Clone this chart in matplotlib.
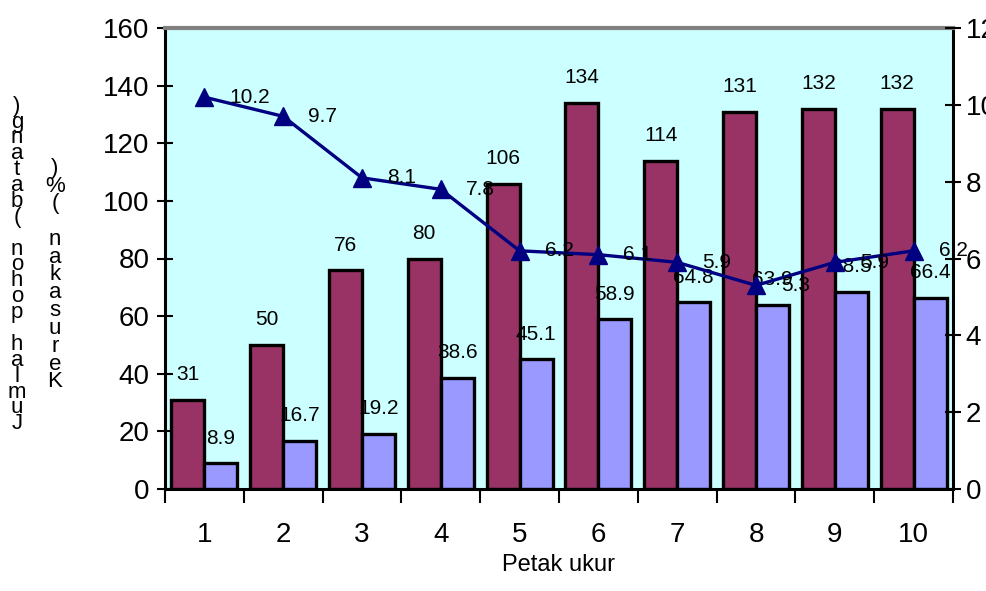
import matplotlib
matplotlib.use("Agg")
import matplotlib.pyplot as plt
import numpy as np

plots = ["1", "2", "3", "4", "5", "6", "7", "8", "9", "10"]
pohon = [31, 50, 76, 80, 106, 134, 114, 131, 132, 132]
semai = [8.9, 16.7, 19.2, 38.6, 45.1, 58.9, 64.8, 63.9, 68.5, 66.4]
rusak = [10.2, 9.7, 8.1, 7.8, 6.2, 6.1, 5.9, 5.3, 5.9, 6.2]

ylabel_left = "Jumlah pohon (batang)"
ylabel_right = "Kerusakan (%)"

plt.rcParams["font.family"] = ["Liberation Sans", "DejaVu Sans"]

fig = plt.figure(figsize=(9.87, 5.91), dpi=100)
ax = fig.add_axes([165 / 987, 1 - 489 / 591, 788 / 987, 461 / 591])
ax.set_facecolor("#CCFFFF")

x = np.arange(1, len(plots) + 1)
w = 0.42
ax.bar(x - w / 2, pohon, w, color="#993366", edgecolor="black", linewidth=2.4, zorder=2)
ax.bar(x + w / 2, semai, w, color="#9999FF", edgecolor="black", linewidth=2.4, zorder=2)

for xi, v in zip(x, pohon):
    ax.annotate(f"{v:g}", (xi - w / 2, v), xytext=(0, 18), textcoords="offset points",
                ha="center", va="center", fontsize=15, zorder=5)
for xi, v in zip(x, semai):
    ax.annotate(f"{v:g}", (xi + w / 2, v), xytext=(0, 18), textcoords="offset points",
                ha="center", va="center", fontsize=15, zorder=5)

ax.set_xlim(0.5, len(plots) + 0.5)
ax.set_ylim(0, 160)
ax.set_yticks(range(0, 161, 20))
ax.tick_params(axis="y", direction="inout", length=12, width=1.5, labelsize=20, pad=5)

# category ticks between groups, labels centred under each group
ax.set_xticks(np.arange(0.5, len(plots) + 1, 1.0))
ax.set_xticklabels([])
ax.set_xticks(x, minor=True)
ax.set_xticklabels(plots, minor=True, fontsize=20)
ax.tick_params(axis="x", which="major", direction="out", length=10, width=1.5)
ax.tick_params(axis="x", which="minor", length=0, pad=24)
ax.set_xlabel("Petak ukur", fontsize=17, labelpad=4)

for side in ["left", "bottom", "right"]:
    ax.spines[side].set_linewidth(2.2)
    ax.spines[side].set_color("black")
ax.spines["top"].set_color("#808080")
ax.spines["top"].set_linewidth(3)

ax2 = ax.twinx()
ax2.set_ylim(0, 12)
ax2.set_yticks(range(0, 13, 2))
ax2.plot(x, rusak, color="#000080", linewidth=2.4, marker="^", markersize=13, zorder=4)
for xi, v in zip(x, rusak):
    ax2.annotate(f"{v:g}", (xi, v), xytext=(18, 0), textcoords="offset points",
                 ha="left", va="center", fontsize=15, zorder=5)
ax2.tick_params(axis="y", direction="inout", length=12, width=1.5, labelsize=20, pad=3)
for side in ["left", "bottom", "top", "right"]:
    ax2.spines[side].set_visible(False)

# axis titles drawn as stacked upright characters
fig.text(17 / 987, 1 - 265 / 591, "\n".join(reversed(ylabel_left)), ha="center", va="center",
         fontsize=16, linespacing=0.68)
fig.text(55 / 987, 1 - 275 / 591, "\n".join(reversed(ylabel_right)), ha="center", va="center",
         fontsize=16, linespacing=0.8)

fig.savefig("out.png", dpi=100)
